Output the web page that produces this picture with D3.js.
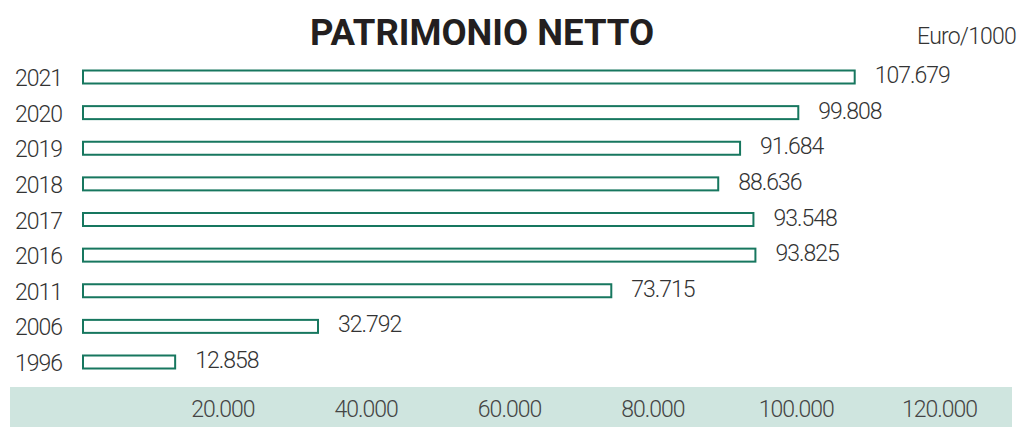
<!DOCTYPE html>
<html>
<head>
<meta charset="utf-8">
<script src="https://cdn.jsdelivr.net/npm/d3@7"></script>
<style>
  body { margin: 0; background: #fff; }
  text { font-family: Roboto, "Noto Sans", sans-serif; }
</style>
</head>
<body>
<div id="grafica"></div>
<script>
// dati (Euro/1000)
var anni = ["2021", "2020", "2019", "2018", "2017", "2016", "2011", "2006", "1996"];
var valori = [107679, 99808, 91684, 88636, 93548, 93825, 73715, 32792, 12858];
var etichette = ["107.679", "99.808", "91.684", "88.636", "93.548", "93.825", "73.715", "32.792", "12.858"];
var tickValori = [20000, 40000, 60000, 80000, 100000, 120000];
var tickEtichette = ["20.000", "40.000", "60.000", "80.000", "100.000", "120.000"];

var larghezza = 1018,
    altezza = 427;

var svg = d3.select("#grafica").append("svg")
    .attr("width", larghezza)
    .attr("height", altezza);

var x = d3.scaleLinear()
    .domain([0, 120000])
    .range([83, 943]);

var y = d3.scalePoint()
    .domain(anni)
    .range([77, 362]);

var verde = "#17775f";

// titolo
svg.append("text")
    .attr("x", 482)
    .attr("y", 45)
    .attr("text-anchor", "middle")
    .style("font-size", "36.5px")
    .style("font-weight", "bold")
    .style("fill", "#231f20")
    .text("PATRIMONIO NETTO");

svg.append("text")
    .attr("x", 1016)
    .attr("y", 44)
    .attr("text-anchor", "end")
    .style("font-size", "23px")
    .style("font-weight", 300)
    .style("letter-spacing", "-0.8px")
    .style("fill", "#333")
    .text("Euro/1000");

// fascia asse
svg.append("rect")
    .attr("x", 10)
    .attr("y", 387)
    .attr("width", 1002)
    .attr("height", 40)
    .attr("fill", "#cfe5df");

var righe = anni.map(function (a, i) {
    return { anno: a, valore: valori[i], etichetta: etichette[i] };
});

svg.selectAll("rect.barra")
    .data(righe)
    .enter().append("rect")
    .attr("class", "barra")
    .attr("x", x(0))
    .attr("y", function (d) { return y(d.anno) - 6.5; })
    .attr("width", function (d) { return x(d.valore) - x(0); })
    .attr("height", 13)
    .attr("fill", "#fff")
    .attr("stroke", verde)
    .attr("stroke-width", 2);

svg.selectAll("text.anno")
    .data(righe)
    .enter().append("text")
    .attr("class", "anno")
    .attr("x", 15)
    .attr("y", function (d) { return y(d.anno) + 9; })
    .style("font-size", "23px")
    .style("font-weight", 300)
    .style("letter-spacing", "-1px")
    .style("fill", "#333")
    .text(function (d) { return d.anno; });

svg.selectAll("text.valore")
    .data(righe)
    .enter().append("text")
    .attr("class", "valore")
    .attr("x", function (d) { return x(d.valore) + 20; })
    .attr("y", function (d) { return y(d.anno) + 6; })
    .style("font-size", "23px")
    .style("font-weight", 300)
    .style("letter-spacing", "-1px")
    .style("fill", "#333")
    .text(function (d) { return d.etichetta; });

// asse x
var asse = d3.axisBottom(x)
    .tickValues(tickValori)
    .tickFormat(function (d, i) { return tickEtichette[i]; })
    .tickSize(0)
    .tickPadding(0);

var gAsse = svg.append("g")
    .attr("transform", "translate(-4,401)")
    .call(asse);

gAsse.select(".domain").remove();
gAsse.selectAll("text")
    .style("font-family", "Roboto, sans-serif")
    .style("font-size", "23px")
    .style("font-weight", 300)
    .style("letter-spacing", "-1px")
    .style("fill", "#444");
</script>
</body>
</html>
